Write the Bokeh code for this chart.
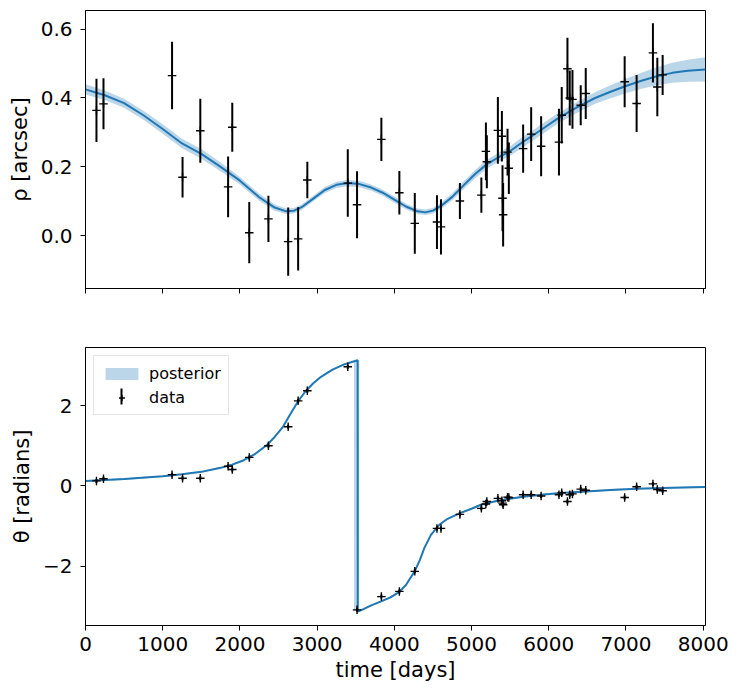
import numpy as np
from bokeh.plotting import figure
from bokeh.layouts import column
from bokeh.models import (Range1d, FixedTicker, CustomJSTickFormatter,
                          Legend, LegendItem, BoxAnnotation)
from bokeh.embed import file_html
from bokeh.resources import INLINE

# ---------------- data ----------------
obs_time = [142, 233, 1121, 1257, 1487, 1847, 1901, 2121, 2369, 2625, 2754, 2873, 3397, 3517,
            3832, 4065, 4265, 4552, 4604, 4849, 5127, 5186, 5198, 5341, 5393, 5401, 5409, 5466,
            5483, 5668, 5772, 5901, 6132, 6168, 6242, 6272, 6307, 6414, 6479, 6983, 7138, 7349,
            7406, 7475]
obs_rho = [0.364, 0.383, 0.465, 0.170, 0.305, 0.142, 0.315, 0.009, 0.049, -0.017, -0.009, 0.162,
           0.153, 0.090, 0.280, 0.125, 0.036, 0.040, 0.026, 0.101, 0.118, 0.245, 0.215, 0.306,
           0.289, 0.109, 0.061, 0.243, 0.196, 0.253, 0.295, 0.260, 0.272, 0.350, 0.485, 0.400,
           0.396, 0.379, 0.413, 0.447, 0.384, 0.531, 0.432, 0.467]
obs_rho_err = [0.092, 0.074, 0.098, 0.059, 0.093, 0.088, 0.071, 0.089, 0.067, 0.099, 0.092, 0.053,
               0.098, 0.097, 0.063, 0.063, 0.088, 0.078, 0.080, 0.052, 0.051, 0.084, 0.077, 0.097,
               0.073, 0.096, 0.092, 0.068, 0.075, 0.070, 0.078, 0.087, 0.097, 0.082, 0.090, 0.080,
               0.085, 0.058, 0.074, 0.074, 0.083, 0.086, 0.085, 0.058]
obs_theta = [0.124, 0.18, 0.28, 0.19, 0.19, 0.49, 0.41, 0.71, 1.0, 1.475, 2.12, 2.37, 2.97, -3.09,
             -2.76, -2.63, -2.13, -1.06, -1.06, -0.71, -0.56, -0.45, -0.39, -0.31, -0.37, -0.43,
             -0.47, -0.28, -0.29, -0.22, -0.22, -0.25, -0.22, -0.17, -0.39, -0.22, -0.20, -0.08,
             -0.11, -0.29, -0.02, 0.05, -0.09, -0.12]
obs_theta_err = [0.05, 0.05, 0.05, 0.05, 0.05, 0.05, 0.05, 0.05, 0.05, 0.05, 0.05, 0.05, 0.05,
                 0.05, 0.05, 0.05, 0.05, 0.05, 0.05, 0.05, 0.05, 0.05, 0.05, 0.05, 0.05, 0.05,
                 0.05, 0.05, 0.05, 0.05, 0.05, 0.05, 0.05, 0.05, 0.05, 0.05, 0.05, 0.05, 0.05,
                 0.05, 0.05, 0.05, 0.05, 0.05]

# posterior model curve for rho (median and half-width of band)
model_rho_t = [0, 250, 500, 750, 1000, 1250, 1500, 1750, 2000, 2250, 2450, 2600, 2700, 2800,
               2950, 3100, 3250, 3400, 3550, 3700, 3850, 4000, 4150, 4300, 4400, 4500, 4600,
               4750, 4900, 5050, 5200, 5350, 5500, 5650, 5800, 5950, 6100, 6250, 6400, 6600,
               6800, 7000, 7200, 7400, 7600, 7800, 8030]
model_rho = [0.425, 0.408, 0.385, 0.350, 0.310, 0.268, 0.238, 0.200, 0.160, 0.112, 0.082, 0.071,
             0.073, 0.083, 0.108, 0.133, 0.148, 0.153, 0.150, 0.140, 0.125, 0.105, 0.085, 0.071,
             0.068, 0.073, 0.086, 0.113, 0.147, 0.180, 0.208, 0.228, 0.246, 0.270, 0.292, 0.315,
             0.338, 0.358, 0.377, 0.400, 0.418, 0.435, 0.450, 0.463, 0.473, 0.479, 0.483]
model_rho_band = [0.015, 0.014, 0.013, 0.013, 0.014, 0.014, 0.014, 0.013, 0.011, 0.010, 0.009,
                  0.008, 0.008, 0.008, 0.008, 0.009, 0.009, 0.009, 0.009, 0.009, 0.009, 0.009,
                  0.008, 0.008, 0.008, 0.008, 0.009, 0.010, 0.011, 0.012, 0.013, 0.013, 0.014,
                  0.015, 0.015, 0.015, 0.015, 0.015, 0.016, 0.017, 0.019, 0.021, 0.023, 0.026,
                  0.029, 0.032, 0.035]

# posterior model curve for theta
model_theta_t = [0, 500, 1000, 1250, 1500, 1750, 1900, 2050, 2200, 2350, 2450, 2550, 2650, 2750,
                 2850, 2950, 3050, 3200, 3350, 3450, 3525, 3526, 3600, 3700, 3828, 3950, 4065,
                 4150, 4263, 4330, 4388, 4474, 4582, 4690, 4849, 5000, 5121, 5337, 5668, 5900,
                 6160, 6479, 6800, 7138, 7600, 8030]
model_theta = [0.12, 0.17, 0.24, 0.29, 0.35, 0.45, 0.53, 0.64, 0.80, 1.02, 1.22, 1.45, 1.78, 2.10,
               2.36, 2.56, 2.72, 2.90, 3.03, 3.09, 3.13, -3.13, -3.07, -2.98, -2.88, -2.78, -2.64,
               -2.47, -2.13, -1.85, -1.55, -1.22, -0.97, -0.82, -0.68, -0.57, -0.47, -0.37, -0.27,
               -0.22, -0.18, -0.14, -0.10, -0.07, -0.045, -0.025]
model_theta_band = 0.02
wrap_start, wrap_end = 3478, 3545       # posterior spread of the +pi -> -pi wrap time
wrap_low, wrap_high = -3.12, 3.12

x_ticks = [0, 1000, 2000, 3000, 4000, 5000, 6000, 7000, 8000]
rho_ticks = [0.0, 0.2, 0.4, 0.6]
theta_ticks = [-2, 0, 2]

BLUE = "#1f77b4"
FONT = "DejaVu Sans"

x_range = Range1d(0, 8030)


def style(p):
    p.outline_line_color = "black"
    p.outline_line_width = 1
    p.grid.visible = False
    p.background_fill_color = "white"
    p.border_fill_color = "white"
    for ax in p.axis:
        ax.major_tick_out = 5
        ax.major_tick_in = 0
        ax.minor_tick_out = 0
        ax.minor_tick_in = 0
        ax.axis_line_color = "black"
        ax.major_tick_line_color = "black"
        ax.major_label_text_font = FONT
        ax.major_label_text_font_size = "20px"
        ax.major_label_text_color = "black"
        ax.axis_label_text_font = FONT
        ax.axis_label_text_font_size = "21px"
        ax.axis_label_text_font_style = "normal"
        ax.axis_label_text_color = "black"


# ---------------- top: rho ----------------
p1 = figure(width=740, height=318, x_range=x_range, y_range=Range1d(-0.153, 0.654),
            output_backend="svg", toolbar_location=None,
            min_border_left=85, min_border_right=35, min_border_top=10, min_border_bottom=30)
style(p1)

mrt = np.array(model_rho_t, float)
mr = np.array(model_rho)
mb = np.array(model_rho_band)
p1.varea(x=mrt, y1=mr - mb, y2=mr + mb, fill_color=BLUE, fill_alpha=0.3)
p1.line(mrt, mr, line_color=BLUE, line_width=2)

ot = np.array(obs_time, float)
orho = np.array(obs_rho)
oerr = np.array(obs_rho_err)
p1.segment(x0=ot, y0=orho - oerr, x1=ot, y1=orho + oerr, line_color="black", line_width=2)
p1.scatter(ot, orho, marker="cross", size=8.5, line_color="black", line_width=1.4)

p1.xaxis.ticker = FixedTicker(ticks=x_ticks)
p1.xaxis.formatter = CustomJSTickFormatter(code="return '';")
p1.yaxis.ticker = FixedTicker(ticks=rho_ticks)
p1.yaxis.formatter = CustomJSTickFormatter(code="return tick.toFixed(1);")
p1.yaxis.axis_label = "ρ [arcsec]"
p1.yaxis.major_label_standoff = 8
p1.yaxis.axis_label_standoff = 6

# ---------------- bottom: theta ----------------
p2 = figure(width=740, height=373, x_range=x_range, y_range=Range1d(-3.48, 3.45),
            output_backend="svg", toolbar_location=None,
            min_border_left=85, min_border_right=35, min_border_top=29, min_border_bottom=66)
style(p2)

mtt = np.array(model_theta_t, float)
mth = np.array(model_theta)
band = p2.varea(x=mtt, y1=mth - model_theta_band, y2=mth + model_theta_band,
                fill_color=BLUE, fill_alpha=0.3)
p2.quad(left=[wrap_start], right=[wrap_end], bottom=[wrap_low], top=[wrap_high],
        fill_color=BLUE, fill_alpha=0.3, line_color=None)
p2.line(mtt, mth, line_color=BLUE, line_width=2)

oth = np.array(obs_theta)
othe = np.array(obs_theta_err)
p2.segment(x0=ot, y0=oth - othe, x1=ot, y1=oth + othe, line_color="black", line_width=2)
data_marks = p2.scatter(ot, oth, marker="cross", size=8.5, line_color="black", line_width=1.4)

legend = Legend(items=[LegendItem(label="posterior", renderers=[band]),
                       LegendItem(label="data", renderers=[data_marks])],
                location="top_left", margin=8, padding=7, spacing=4,
                glyph_width=41, glyph_height=15, label_height=20, label_standoff=7,
                label_text_font=FONT, label_text_font_size="16px", label_text_color="black",
                border_line_color="#cccccc", border_line_width=1,
                background_fill_color="white", background_fill_alpha=0.0)
p2.add_layout(legend)
# vertical error-bar stroke of the "data" legend glyph (screen units, frame-relative)
p2.add_layout(BoxAnnotation(left=35, right=37, bottom=221, top=237,
                            left_units="screen", right_units="screen",
                            bottom_units="screen", top_units="screen",
                            fill_color="black", fill_alpha=1.0, line_color=None))

p2.xaxis.ticker = FixedTicker(ticks=x_ticks)
p2.xaxis.formatter = CustomJSTickFormatter(code="return tick.toFixed(0);")
p2.xaxis.axis_label = "time [days]"
p2.xaxis.major_label_standoff = 6
p2.xaxis.axis_label_standoff = 4
p2.yaxis.ticker = FixedTicker(ticks=theta_ticks)
p2.yaxis.formatter = CustomJSTickFormatter(
    code="return (tick < 0 ? '\\u2212' : '') + Math.abs(tick).toFixed(0);")
p2.yaxis.axis_label = "θ [radians]"
p2.yaxis.major_label_standoff = 8
p2.yaxis.axis_label_standoff = 6

layout = column(p1, p2, spacing=0)
open("out.html", "w").write(file_html(layout, INLINE))
